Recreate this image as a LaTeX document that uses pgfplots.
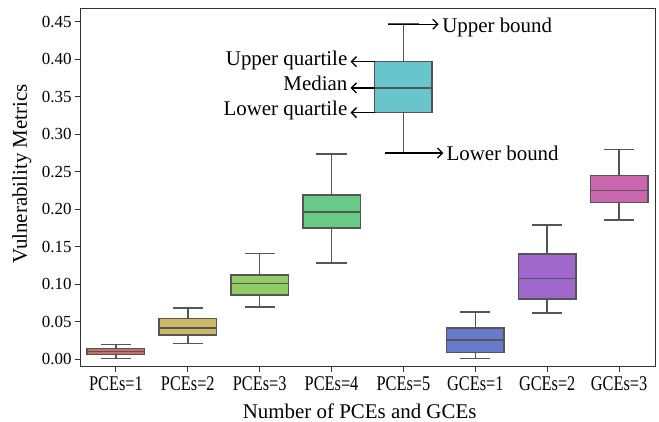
\documentclass[border=0pt]{standalone}
\usepackage{fontspec}
\setmainfont{Liberation Serif}
\newfontfamily\condfont[FakeStretch=0.78]{Liberation Serif}
\usepackage{pgfplots}
\usepgfplotslibrary{statistics}
\usetikzlibrary{arrows.meta}
\pgfplotsset{compat=1.18}
\definecolor{c1}{RGB}{203,109,103}
\definecolor{c2}{RGB}{203,184,103}
\definecolor{c3}{RGB}{147,203,103}
\definecolor{c4}{RGB}{103,203,134}
\definecolor{c5}{RGB}{103,197,203}
\definecolor{c6}{RGB}{103,122,203}
\definecolor{c7}{RGB}{159,103,203}
\definecolor{c8}{RGB}{203,103,172}
\definecolor{lgray}{RGB}{85,85,85}
\definecolor{frame}{RGB}{51,51,51}
\pgfplotsset{
  /pgfplots/boxplot/draw/lower whisker/.code={%
    \draw[draw=lgray, line width=1.6bp]
      (boxplot box cs:\pgfplotsboxplotvalue{lower quartile},0.5)
      -- (boxplot box cs:\pgfplotsboxplotvalue{lower whisker},0.5)
      (boxplot whisker cs:\pgfplotsboxplotvalue{lower whisker},0)
      -- (boxplot whisker cs:\pgfplotsboxplotvalue{lower whisker},1);
  },
  /pgfplots/boxplot/draw/upper whisker/.code={%
    \draw[draw=lgray, line width=1.6bp]
      (boxplot box cs:\pgfplotsboxplotvalue{upper quartile},0.5)
      -- (boxplot box cs:\pgfplotsboxplotvalue{upper whisker},0.5)
      (boxplot whisker cs:\pgfplotsboxplotvalue{upper whisker},0)
      -- (boxplot whisker cs:\pgfplotsboxplotvalue{upper whisker},1);
  },
}
\tikzset{annarrow/.style={-{Straight Barb[length=5bp,width=10bp,line width=1.3bp]}, black, line width=1.3bp}}
\begin{document}
\begin{tikzpicture}
\begin{axis}[
  scale only axis, width=575bp, height=358bp,
  xmin=-0.5, xmax=7.5, ymin=-0.0099, ymax=0.468,
  xtick={0,1,2,3,4,5,6,7},
  xticklabels={PCEs=1,PCEs=2,PCEs=3,PCEs=4,PCEs=5,GCEs=1,GCEs=2,GCEs=3},
  ytick={0,0.05,0.10,0.15,0.20,0.25,0.30,0.35,0.40,0.45},
  /pgf/number format/assume math mode=true,
  yticklabel style={/pgf/number format/fixed, /pgf/number format/fixed zerofill, /pgf/number format/precision=2, font=\fontsize{17}{17}\selectfont},
  xticklabel style={font=\condfont\fontsize{21}{21}\selectfont, yshift=-2bp},
  tick align=outside, tick pos=left, major tick length=5bp,
  axis line style={draw=frame, line width=1bp},
  every tick/.style={frame, line width=1bp},
  xlabel={Number of PCEs and GCEs},
  ylabel={Vulnerability Metrics},
  every axis x label/.style={at={(rel axis cs:0.4864,-0.1460)}, anchor=base, font=\fontsize{21}{21}\selectfont},
  every axis y label/.style={at={(rel axis cs:-0.1009,0.538)}, anchor=center, rotate=90, font=\fontsize{21}{21}\selectfont},
  boxplot/draw direction=y,
  boxplot/box extend=0.8, boxplot/whisker extend=0.42,
  clip=false,
]
\addplot[boxplot prepared={lower whisker=0.001, lower quartile=0.006, median=0.010, upper quartile=0.014, upper whisker=0.0195, draw position=0}, draw=lgray, fill=c1, line width=1.5bp] coordinates {};
\addplot[boxplot prepared={lower whisker=0.021, lower quartile=0.0324, median=0.0417, upper quartile=0.054, upper whisker=0.068, draw position=1}, draw=lgray, fill=c2, line width=1.5bp] coordinates {};
\addplot[boxplot prepared={lower whisker=0.0697, lower quartile=0.0857, median=0.1008, upper quartile=0.1124, upper whisker=0.141, draw position=2}, draw=lgray, fill=c3, line width=1.5bp] coordinates {};
\addplot[boxplot prepared={lower whisker=0.128, lower quartile=0.1747, median=0.1964, upper quartile=0.219, upper whisker=0.2737, draw position=3}, draw=lgray, fill=c4, line width=1.5bp] coordinates {};
\addplot[boxplot prepared={lower whisker=0.275, lower quartile=0.329, median=0.362, upper quartile=0.397, upper whisker=0.447, draw position=4}, draw=lgray, fill=c5, line width=1.5bp] coordinates {};
\addplot[boxplot prepared={lower whisker=0.001, lower quartile=0.0088, median=0.0253, upper quartile=0.0413, upper whisker=0.063, draw position=5}, draw=lgray, fill=c6, line width=1.5bp] coordinates {};
\addplot[boxplot prepared={lower whisker=0.0613, lower quartile=0.080, median=0.1075, upper quartile=0.140, upper whisker=0.1787, draw position=6}, draw=lgray, fill=c7, line width=1.5bp] coordinates {};
\addplot[boxplot prepared={lower whisker=0.1857, lower quartile=0.2088, median=0.2248, upper quartile=0.2448, upper whisker=0.280, draw position=7}, draw=lgray, fill=c8, line width=1.5bp] coordinates {};
% annotations
\draw[annarrow] (axis cs:3.79,0.447) -- (axis cs:4.49,0.447);
\node[anchor=base west, inner sep=0pt, font=\fontsize{21}{21}\selectfont] at (axis cs:4.5375,0.4364) {Upper bound};
\draw[annarrow] (axis cs:3.75,0.2751) -- (axis cs:4.556,0.2751);
\node[anchor=base west, inner sep=0pt, font=\fontsize{21}{21}\selectfont] at (axis cs:4.597,0.2657) {Lower bound};
\draw[annarrow] (axis cs:3.6,0.397) -- (axis cs:3.264,0.397);
\node[anchor=base east, inner sep=0pt, font=\fontsize{21}{21}\selectfont] at (axis cs:3.222,0.3915) {Upper quartile};
\draw[annarrow] (axis cs:3.6,0.362) -- (axis cs:3.264,0.362);
\node[anchor=base east, inner sep=0pt, font=\fontsize{21}{21}\selectfont] at (axis cs:3.222,0.3581) {Median};
\draw[annarrow] (axis cs:3.6,0.329) -- (axis cs:3.264,0.329);
\node[anchor=base east, inner sep=0pt, font=\fontsize{21}{21}\selectfont] at (axis cs:3.222,0.3257) {Lower quartile};
\coordinate (bl) at (rel axis cs:0,0);
\coordinate (tr) at (rel axis cs:1,1);
\end{axis}
\pgfresetboundingbox
\path ([shift={(-80bp,-55.3bp)}]bl) rectangle ([shift={(4bp,8.5bp)}]tr);
\end{tikzpicture}
\end{document}
